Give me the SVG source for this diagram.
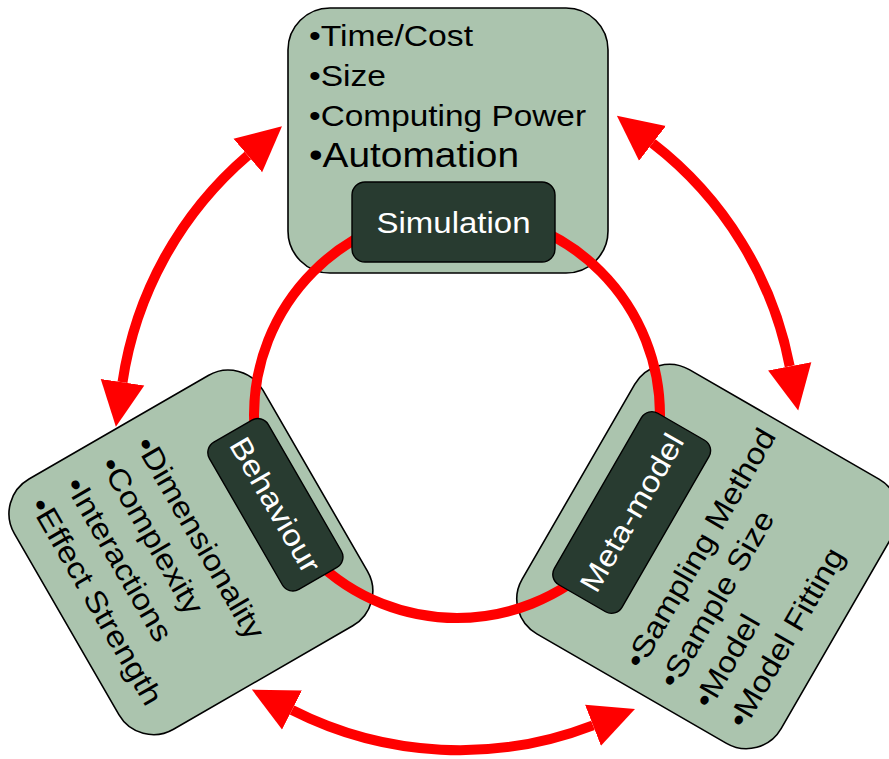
<svg xmlns="http://www.w3.org/2000/svg" width="889" height="759" viewBox="0 0 889 759">
<style>
.box{fill:#abc4ae;stroke:#000;stroke-width:1.6}
.lbl{fill:#283b30;stroke:#000;stroke-width:1.4}
.t{font-family:"Liberation Sans",Arial,sans-serif;font-size:30px;fill:#000}
.big{font-size:35px}
.lt{font-family:"Liberation Sans",Arial,sans-serif;font-size:30px;fill:#fff;text-anchor:middle}
.conn{fill:none;stroke:#ff0000;stroke-width:10}
</style>
<defs>
<marker id="ah" markerUnits="userSpaceOnUse" markerWidth="46" markerHeight="46" viewBox="0 -23 46 46" refX="0" refY="0" orient="auto-start-reverse">
<path d="M0,-22 L45,0 L0,22 Z" fill="#ff0000"/>
</marker>
</defs>

<g id="simulation-panel">
<rect class="box" x="288" y="8" width="320" height="265" rx="42"/>
<text class="t" x="309" y="46" textLength="164" lengthAdjust="spacingAndGlyphs">•Time/Cost</text>
<text class="t" x="309" y="86" textLength="77" lengthAdjust="spacingAndGlyphs">•Size</text>
<text class="t" x="309" y="126" textLength="277" lengthAdjust="spacingAndGlyphs">•Computing Power</text>
<text class="t big" x="309" y="167" textLength="210" lengthAdjust="spacingAndGlyphs">•Automation</text>
</g>

<g id="behaviour-panel" transform="translate(190.9,552.4) rotate(60)">
<rect class="box" x="-144.5" y="-143.5" width="289" height="287" rx="40"/>
<text class="t" x="-122" y="-5" textLength="228" lengthAdjust="spacingAndGlyphs">•Dimensionality</text>
<text class="t" x="-122" y="35.5" textLength="176" lengthAdjust="spacingAndGlyphs">•Complexity</text>
<text class="t" x="-122" y="76" textLength="184" lengthAdjust="spacingAndGlyphs">•Interactions</text>
<text class="t" x="-122" y="116.5" textLength="234" lengthAdjust="spacingAndGlyphs">•Effect Strength</text>
</g>

<g id="metamodel-panel" transform="translate(707.9,556.5) rotate(-60)">
<rect class="box" x="-152.5" y="-149.5" width="305" height="299" rx="40"/>
<text class="t" x="-132" y="-0.6" textLength="271" lengthAdjust="spacingAndGlyphs">•Sampling Method</text>
<text class="t" x="-132" y="39.1" textLength="199" lengthAdjust="spacingAndGlyphs">•Sample Size</text>
<text class="t" x="-132" y="78.8" textLength="102" lengthAdjust="spacingAndGlyphs">•Model</text>
<text class="t" x="-132" y="118.5" textLength="202" lengthAdjust="spacingAndGlyphs">•Model Fitting</text>
</g>

<g id="connectors">
<circle class="conn" cx="457" cy="415" r="203"/>
<path class="conn" d="M247.8,155.5 A370,370 0 0 0 122.5,382.2" marker-start="url(#ah)" marker-end="url(#ah)"/>
<path class="conn" d="M652.5,143.3 A370,370 0 0 1 789.7,366.3" marker-start="url(#ah)" marker-end="url(#ah)"/>
<path class="conn" d="M292,710 A370,370 0 0 0 593,725.3" marker-start="url(#ah)" marker-end="url(#ah)"/>
</g>

<g id="simulation">
<rect class="lbl" x="352" y="182" width="203" height="80" rx="13"/>
<text class="lt" x="453.5" y="233" textLength="154" lengthAdjust="spacingAndGlyphs">Simulation</text>
</g>

<g id="behaviour" transform="translate(190.9,552.4) rotate(60)">
<rect class="lbl" x="-84" y="-131" width="170" height="68" rx="12"/>
<text class="lt" x="1" y="-86.5" textLength="151" lengthAdjust="spacingAndGlyphs">Behaviour</text>
</g>

<g id="metamodel" transform="translate(707.9,556.5) rotate(-60)">
<rect class="lbl" x="-99" y="-127" width="198" height="78" rx="12"/>
<text class="lt" x="0" y="-77.5" textLength="177" lengthAdjust="spacingAndGlyphs">Meta-model</text>
</g>
</svg>
